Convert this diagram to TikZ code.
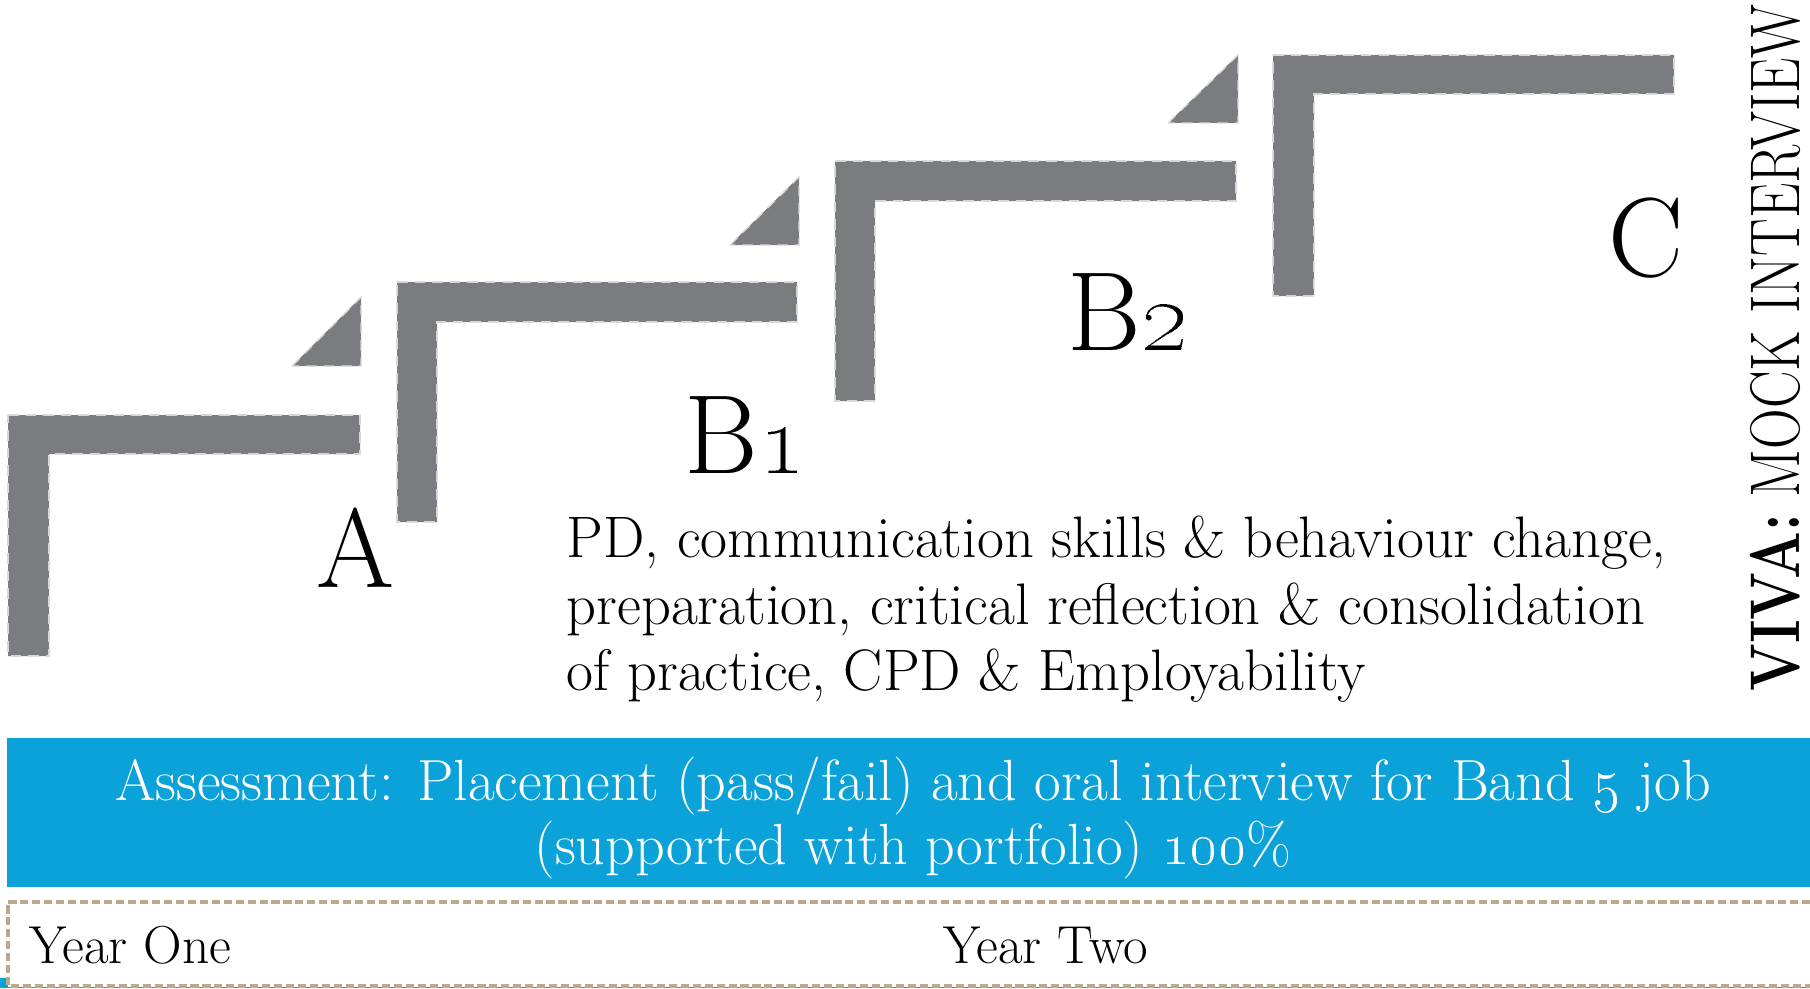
\documentclass[tikz,border=0pt]{standalone}
\usepackage{graphicx}
\usepackage{tikz}

\definecolor{stairgrey}{RGB}{123,124,128}
\definecolor{boxblue}{RGB}{11,162,217}
\definecolor{dashtan}{RGB}{188,168,138}

\tikzset{
    stair/.style={fill=stairgrey, draw=white!70!stairgrey, densely dashed, line width=0.4pt},
    grade/.style={font=\fontsize{32}{38}\selectfont, inner sep=0pt},
    bodytext/.style={font=\fontsize{16.65}{19}\selectfont, align=left, inner sep=0pt},
    assessbox/.style={fill=boxblue, minimum width=18.02cm, minimum height=1.49cm, inner sep=0pt},
    assesstext/.style={text=white, align=center, inner sep=0pt, font=\fontsize{16.5}{18}\selectfont},
    yearlabel/.style={font=\fontsize{15.2}{18}\selectfont, inner sep=0pt, anchor=base west}
}

\begin{document}
\begin{tikzpicture}[x=0.01cm, y=-0.01cm]
    \useasboundingbox (0,0) rectangle (1810,988);

    % steps
    \draw[stair] (8,415) -- (360,415) -- (360,454) -- (49,454) -- (49,656) -- (8,656) -- cycle;
    \draw[stair] (292,366) -- (361,297) -- (361,366) -- cycle;
    \draw[stair] (397,282) -- (797,282) -- (797,322) -- (437,322) -- (437,522) -- (397,522) -- cycle;
    \draw[stair] (730,245) -- (799,177) -- (799,245) -- cycle;
    \draw[stair] (835,161) -- (1236,161) -- (1236,201) -- (875,201) -- (875,401) -- (835,401) -- cycle;
    \draw[stair] (1168,123) -- (1238,55) -- (1238,123) -- cycle;
    \draw[stair] (1273,55) -- (1674,55) -- (1674,94) -- (1314,94) -- (1314,296) -- (1273,296) -- cycle;

    \node[grade, anchor=base] (gradeA) at (355,587) {A};
    \node[grade, anchor=base] (gradeB1) at (745,473) {B\oldstylenums{1}};
    \node[grade, anchor=base] (gradeB2) at (1128,350) {B\oldstylenums{2}};
    \node[grade, anchor=base] (gradeC) at (1646,276) {C};

    \node[bodytext, anchor=north west] (skills) at (566,515)
        {PD, communication skills \& behaviour change,\\
         preparation, critical reflection \& consolidation\\
         of practice, CPD \& Employability};

    \node[rotate=90, font=\fontsize{20}{24}\selectfont, inner sep=0pt] (viva) at (1775,348)
        {\scalebox{0.8}[1]{\textbf{VIVA:} MOCK INTERVIEW}};

    % assessment bar
    \node[assessbox] (assess) at (909,812.5) {};
    \node[assesstext] (assessnote) at (913,818)
        {Assessment: Placement (pass/fail) and oral interview for Band \oldstylenums{5} job\\
         (supported with portfolio) \oldstylenums{100}\%};

    % years
    \fill[boxblue] (0,978) rectangle (8,988);
    \fill[boxblue] (8,987) rectangle (1810,988);
    \draw[dashtan, line width=0.9pt, dash pattern=on 2.3pt off 1.1pt]
        (1810,902) -- (8,902) -- (8,986) -- (1810,986);
    \node[yearlabel] (yearone) at (29,963) {Year One};
    \node[yearlabel] (yeartwo) at (943,963) {Year Two};
\end{tikzpicture}
\end{document}
